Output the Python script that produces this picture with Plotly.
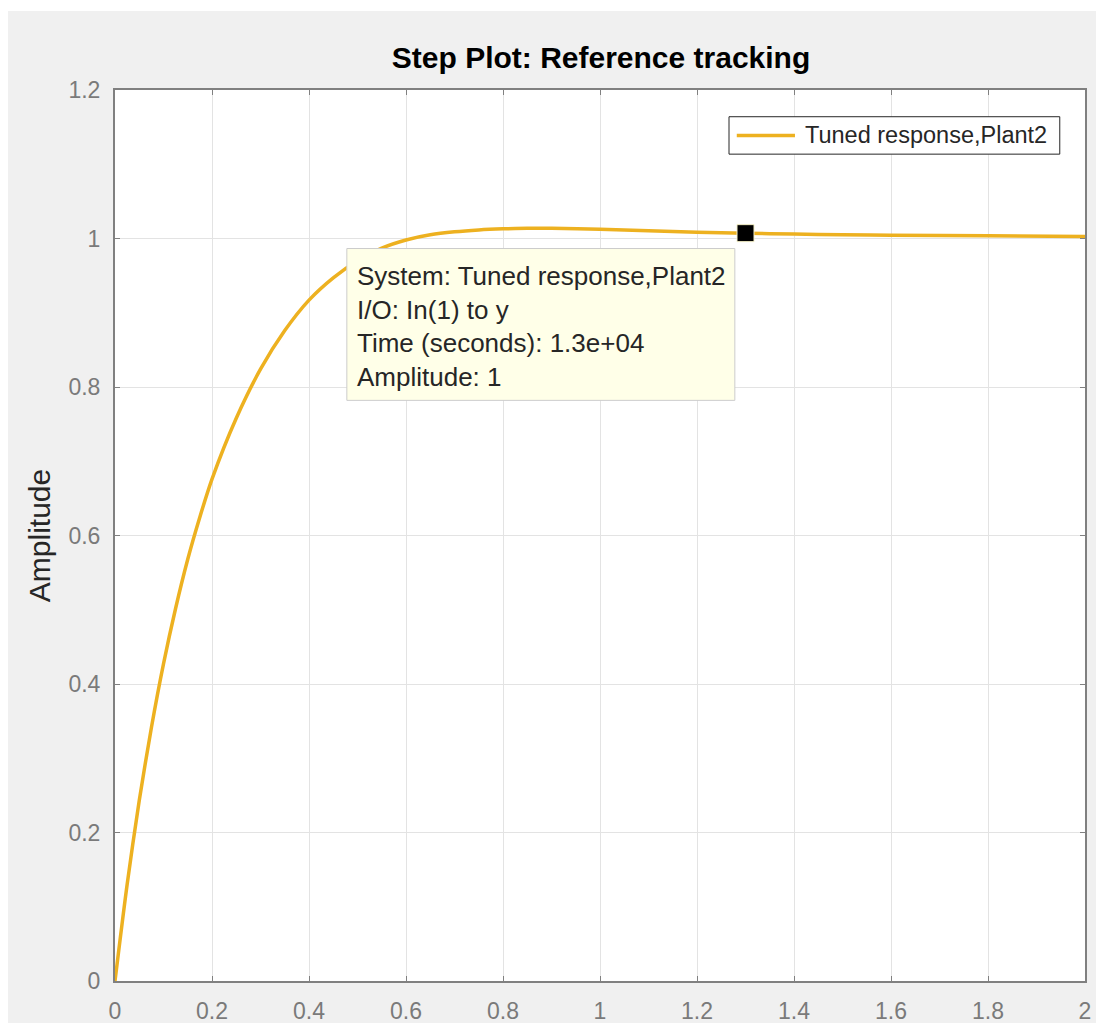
import plotly.graph_objects as go

# Step response
time_s = [0, 0.025, 0.05, 0.075, 0.1, 0.125, 0.15, 0.175, 0.2, 0.25, 0.3, 0.35, 0.4,
          0.45, 0.5, 0.55, 0.6, 0.65, 0.7, 0.75, 0.8, 0.85, 0.9, 1.0, 1.1, 1.2, 1.3,
          1.4, 1.5, 1.6, 1.8, 2.0]
amplitude = [0, 0.13, 0.243, 0.341, 0.427, 0.502, 0.568, 0.625, 0.676, 0.758, 0.824, 0.876,
             0.917, 0.947, 0.970, 0.987, 0.998, 1.005, 1.009, 1.0115, 1.013, 1.0138, 1.0139,
             1.0125, 1.0105, 1.0085, 1.0070, 1.006, 1.005, 1.0044, 1.0036, 1.0027]

tip_time = [1.3]
tip_amp = [1.0072]
tip_lines = ["System: Tuned response,Plant2", "I/O: In(1) to y",
             "Time (seconds): 1.3e+04", "Amplitude: 1"]
legend_label = "Tuned response,Plant2"

x_ticks = [0, 0.2, 0.4, 0.6, 0.8, 1, 1.2, 1.4, 1.6, 1.8, 2]
x_labels = ["0", "0.2", "0.4", "0.6", "0.8", "1", "1.2", "1.4", "1.6", "1.8", "2"]
y_ticks = [0, 0.2, 0.4, 0.6, 0.8, 1, 1.2]
y_labels = ["0", "0.2", "0.4", "0.6", "0.8", "1", "1.2"]

FONT = "Liberation Sans, Arial, Helvetica, sans-serif"
LINE_COLOR = "#EDB120"
AX = "#808080"

fig = go.Figure()
fig.add_trace(go.Scatter(x=time_s, y=amplitude, mode="lines",
                         line=dict(color=LINE_COLOR, width=3.5, shape="spline", smoothing=0.8),
                         name=legend_label, showlegend=False))
fig.add_trace(go.Scatter(x=tip_time, y=tip_amp, mode="markers", showlegend=False,
                         marker=dict(symbol="square", size=17, color="black",
                                     line=dict(color="#f5f0c8", width=1))))

# legend box (MATLAB style, long line sample)
fig.add_shape(type="rect", xref="paper", yref="paper", x0=0.633, x1=0.974, y0=0.928, y1=0.970,
              fillcolor="white", line=dict(color="#262626", width=1), layer="above")
fig.add_shape(type="line", xref="paper", yref="paper", x0=0.641, x1=0.701, y0=0.949, y1=0.949,
              line=dict(color=LINE_COLOR, width=3.5), layer="above")
fig.add_annotation(x=0.709, y=0.949, xref="paper", yref="paper", text=legend_label,
                   showarrow=False, xanchor="left", yanchor="middle",
                   font=dict(family=FONT, size=23.5, color="#262626"))

# data tip box
fig.add_shape(type="rect", xref="x", yref="y", x0=0.478, x1=1.278, y0=0.782, y1=0.9865,
              fillcolor="#ffffe8", line=dict(color="#cccccc", width=1), layer="above")
tip_y = [0.950, 0.904, 0.859, 0.813]
for txt, yy in zip(tip_lines, tip_y):
    fig.add_annotation(x=0.494, y=yy, xref="x", yref="y", text=txt, showarrow=False,
                       xanchor="left", yanchor="middle",
                       font=dict(family=FONT, size=26, color="#262626"))

# thin white strip at the very top
fig.add_shape(type="rect", xref="paper", yref="paper", x0=-0.2, x1=1.1, y0=1.0886, y1=1.2,
              fillcolor="white", line=dict(width=0), layer="below")

fig.update_layout(
    width=1096, height=1015,
    margin=dict(l=107, r=19, t=82, b=42),
    paper_bgcolor="#f0f0f0", plot_bgcolor="white",
    font=dict(family=FONT, color="#262626"),
    title=dict(text="<b>Step Plot: Reference tracking</b>", x=0.5411, xanchor="center",
               y=0.9517, yanchor="middle", font=dict(size=30, color="black")),
    showlegend=False,
)
fig.update_xaxes(range=[0, 2], tickvals=x_ticks, ticktext=x_labels, showgrid=True,
                 gridcolor="#e3e3e3", gridwidth=1, showline=True, linecolor=AX, linewidth=2,
                 mirror="ticks", ticks="inside", ticklen=5, tickcolor=AX,
                 tickfont=dict(size=23, color="#7a7a7a"), zeroline=False,
                 ticklabelstandoff=8, automargin=False)
fig.update_yaxes(range=[0, 1.2], tickvals=y_ticks, ticktext=y_labels, showgrid=True,
                 gridcolor="#e3e3e3", gridwidth=1, showline=True, linecolor=AX, linewidth=2,
                 mirror="ticks", ticks="inside", ticklen=5, tickcolor=AX,
                 tickfont=dict(size=23, color="#7a7a7a"), zeroline=False,
                 ticklabelstandoff=8, automargin=False,
                 title=dict(text="Amplitude", font=dict(size=30, color="#262626"), standoff=9))

fig.write_html("out.html")
